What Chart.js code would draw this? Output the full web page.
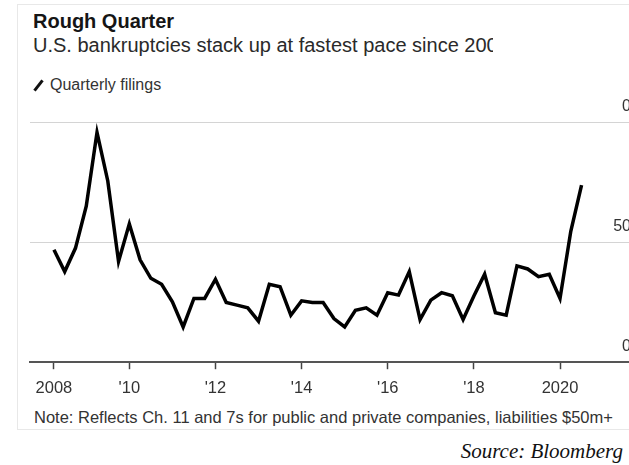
<!DOCTYPE html>
<html>
<head>
<meta charset="utf-8">
<script src="https://cdn.jsdelivr.net/npm/chart.js@4"></script>
<style>
  html, body { margin: 0; padding: 0; background: #fff; }
  body { width: 629px; height: 465px; overflow: hidden; position: relative; font-family: "Liberation Sans", Arial, sans-serif; }
  .card { position: absolute; left: 17px; top: 4px; width: 640px; height: 426px; border: 1px solid #e8e8e8; box-sizing: border-box; }
  .title { position: absolute; left: 33px; top: 10px; font-size: 20px; font-weight: bold; color: #151515; white-space: nowrap; }
  .subtitle { position: absolute; left: 33px; top: 34px; width: 460px; overflow: hidden; font-size: 20px; color: #2a2a2a; white-space: nowrap; }
  .legend { position: absolute; left: 33px; top: 76px; font-size: 16px; color: #333; white-space: nowrap; }
  .legend i { display: inline-block; width: 3px; height: 13px; background: #111; transform: rotate(38deg); margin: 0 10px 0 4px; vertical-align: -2px; }
  .note { position: absolute; left: 34px; top: 408px; font-size: 16.5px; color: #333; white-space: nowrap; }
  .source { position: absolute; right: 6px; top: 439px; font-family: "Liberation Serif", "Times New Roman", serif; font-style: italic; font-size: 21px; color: #111; white-space: nowrap; }
  #chart { position: absolute; left: 0; top: 95px; }
</style>
</head>
<body>
<div class="card"></div>
<div class="title">Rough Quarter</div>
<div class="subtitle">U.S. bankruptcies stack up at fastest pace since 2009</div>
<div class="legend"><i></i>Quarterly filings</div>
<canvas id="chart" width="640" height="313"></canvas>
<div class="note">Note: Reflects Ch. 11 and 7s for public and private companies, liabilities $50m+</div>
<div class="source">Source: Bloomberg</div>

<script>
// ------- Data -------
const startYear = 2008;
// quarterly filings, 2008 Q1 .. 2020 Q2
const filings = [
  46.9, 37.8, 47.6, 65.1, 95.9, 75.6, 42.0, 57.7, 42.7, 35.0,
  32.5, 25.2, 14.7, 26.6, 26.6, 34.6, 24.9, 23.8, 22.7, 17.1,
  32.5, 31.5, 19.6, 25.6, 24.9, 24.9, 18.2, 14.7, 21.7, 22.7,
  19.6, 29.0, 28.0, 37.8, 17.8, 25.9, 29.0, 27.7, 17.8, 27.6,
  36.7, 20.6, 19.6, 40.2, 38.9, 35.7, 36.7, 26.6, 54.6, 73.9
];
const xTickValues = [2008.25, 2010, 2012, 2014, 2016, 2018, 2020];
const xTickLabels = ['2008', "'10", "'12", "'14", "'16", "'18", '2020'];
const yTickValues = [100, 50, 0];
const yTickLabels = ['0', '50', '0'];

// quarter-end position of each filing count
const points = filings.map((v, i) => ({ x: startYear + (i + 1) / 4, y: v }));

// y labels sit above their gridlines at the right edge
const yLabelPlugin = {
  id: 'yLabels',
  afterDraw(chart) {
    const { ctx, chartArea, scales: { y } } = chart;
    ctx.save();
    ctx.font = '16px "Liberation Sans", Arial, sans-serif';
    ctx.fillStyle = '#333';
    ctx.textAlign = 'right';
    ctx.textBaseline = 'middle';
    yTickValues.forEach((v, i) => {
      ctx.fillText(yTickLabels[i], chartArea.right - 9, y.getPixelForValue(v) - 16);
    });
    ctx.restore();
  }
};

new Chart(document.getElementById('chart'), {
  type: 'line',
  data: {
    datasets: [{
      label: 'Quarterly filings',
      data: points,
      borderColor: '#000',
      borderWidth: 3.5,
      borderJoinStyle: 'miter',
      pointRadius: 0,
      tension: 0,
      fill: false
    }]
  },
  options: {
    responsive: false,
    animation: false,
    layout: { padding: { left: 30, right: 0, top: 27.5, bottom: 0 } },
    plugins: { legend: { display: false }, tooltip: { enabled: false } },
    scales: {
      x: {
        type: 'linear',
        min: 2007.694,
        max: 2021.857,
        afterBuildTicks: s => { s.ticks = xTickValues.map(v => ({ value: v })); },
        ticks: {
          autoSkip: false,
          maxRotation: 0,
          padding: 9.5,
          color: '#333',
          font: { family: '"Liberation Sans", Arial, sans-serif', size: 16.5 },
          callback: v => xTickLabels[xTickValues.indexOf(v)]
        },
        grid: { drawOnChartArea: false, drawTicks: true, tickLength: 7, tickColor: '#444', tickWidth: 1.5 },
        border: { display: true, color: '#555', width: 2 }
      },
      y: {
        position: 'right',
        min: 0,
        max: 100,
        afterBuildTicks: s => { s.ticks = yTickValues.map(v => ({ value: v })); },
        ticks: { display: false },
        grid: { drawTicks: false, color: ctx => ctx.tick && ctx.tick.value === 0 ? 'rgba(0,0,0,0)' : '#d4d4d4', lineWidth: 1 },
        border: { display: false }
      }
    }
  },
  plugins: [yLabelPlugin]
});
</script>
</body>
</html>
